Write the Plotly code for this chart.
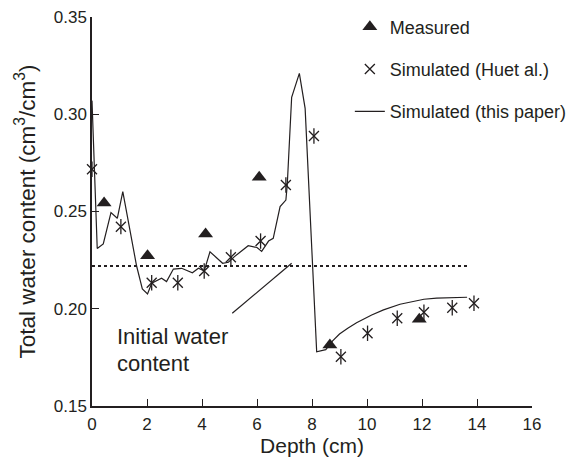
import plotly.graph_objects as go

# Measured (triangles)
meas_x = [0.44, 2.02, 4.13, 6.08, 8.65, 11.9]
meas_y = [0.2544, 0.2273, 0.2384, 0.2676, 0.1814, 0.1946]

# Simulated (Huet et al.) - asterisks
huet_x = [0.0, 1.05, 2.17, 3.12, 4.08, 5.05, 6.13, 7.05, 8.07, 9.05, 10.02, 11.1, 12.07, 13.1, 13.89]
huet_y = [0.2717, 0.2422, 0.2134, 0.2134, 0.2194, 0.2265, 0.2348, 0.2636, 0.2888, 0.1753, 0.1874, 0.1951, 0.1982, 0.2005, 0.2028]

# Simulated (this paper) - line
sim_x = [0.0, 0.19, 0.41, 0.69, 0.92, 1.12, 1.62, 1.83, 2.02, 2.17, 2.53, 2.71, 2.96, 3.26, 3.65, 3.87,
         4.08, 4.29, 4.75, 4.96, 5.18, 5.68, 6.0, 6.17, 6.42, 6.59, 6.84, 7.05, 7.1, 7.26, 7.54, 7.75,
         8.17, 8.5, 8.75, 9.0, 9.3, 9.62, 10.17, 10.6, 11.2, 11.63, 12.07, 12.53, 13.14, 13.64]
sim_y = [0.307, 0.231, 0.2333, 0.2494, 0.2465, 0.2602, 0.2221, 0.2102, 0.2076, 0.2131, 0.2157, 0.214,
         0.2204, 0.2208, 0.2185, 0.2208, 0.2194, 0.2293, 0.2234, 0.2239, 0.2268, 0.2324, 0.2315, 0.2295,
         0.2348, 0.2362, 0.2525, 0.2559, 0.2636, 0.3087, 0.321, 0.303, 0.1779, 0.179, 0.1835, 0.187,
         0.19, 0.1928, 0.1968, 0.1994, 0.2023, 0.2036, 0.2049, 0.2055, 0.2059, 0.2059]

# Initial water content (dotted)
init_x = [0.0, 13.7]
init_y = [0.222, 0.222]

# Pointer line for annotation
ptr_x = [5.1, 7.26]
ptr_y = [0.1977, 0.2234]

# Annotation text lines
note_lines = ["Initial water", "content"]
note_y = [0.1855, 0.1721]

x_ticks = [0, 2, 4, 6, 8, 10, 12, 14, 16]
y_ticks = [0.15, 0.20, 0.25, 0.30, 0.35]

INK = "#231f20"
FONT = "Liberation Sans, Arial, sans-serif"

fig = go.Figure()

fig.add_trace(go.Scatter(
    x=init_x, y=init_y, mode="lines",
    line=dict(color=INK, width=2, dash="3px,3px"),
    showlegend=False, hoverinfo="skip"))

fig.add_trace(go.Scatter(
    x=ptr_x, y=ptr_y, mode="lines",
    line=dict(color=INK, width=1.2),
    showlegend=False, hoverinfo="skip"))

fig.add_trace(go.Scatter(
    x=meas_x, y=meas_y, mode="markers", name="Measured",
    marker=dict(symbol="triangle-up", size=13, color=INK),
    legendgroup="a", cliponaxis=False))

fig.add_trace(go.Scatter(
    x=huet_x, y=huet_y, mode="markers", name="Simulated (Huet al.)",
    marker=dict(symbol="x-thin-open", size=10, color=INK, line=dict(color=INK, width=1.3)),
    legendgroup="b", cliponaxis=False))

fig.add_trace(go.Scatter(
    x=huet_x, y=huet_y, mode="markers", showlegend=False,
    marker=dict(symbol="line-ns-open", size=11, color=INK, line=dict(color=INK, width=1.3)),
    legendgroup="b", cliponaxis=False, hoverinfo="skip"))

fig.add_trace(go.Scatter(
    x=sim_x, y=sim_y, mode="lines", name="Simulated (this paper)",
    line=dict(color=INK, width=1.2),
    legendgroup="c", cliponaxis=False))

for txt, yy in zip(note_lines, note_y):
    fig.add_annotation(
        x=0.85, y=yy, xref="x", yref="y",
        text=txt, showarrow=False,
        xanchor="left", yanchor="middle", align="left",
        font=dict(size=22, color=INK, family=FONT))

fig.update_layout(
    width=584, height=460,
    margin=dict(l=92, r=52, t=17, b=54, autoexpand=False),
    paper_bgcolor="white", plot_bgcolor="white",
    font=dict(family=FONT, color=INK, size=17),
    legend=dict(
        x=0.586, y=1.022, xanchor="left", yanchor="top",
        bgcolor="rgba(0,0,0,0)", font=dict(size=18, color=INK),
        tracegroupgap=16, traceorder="grouped"),
    xaxis=dict(
        range=[0, 16], tickvals=x_ticks, ticktext=[str(v) for v in x_ticks],
        showline=True, linecolor=INK, linewidth=1.5,
        ticks="inside", ticklen=7, tickwidth=1.3, tickcolor=INK,
        showgrid=False, zeroline=False, ticklabelstandoff=2, automargin=False,
        tickfont=dict(size=17),
        title=dict(text="Depth (cm)", font=dict(size=21), standoff=5)),
    yaxis=dict(
        range=[0.15, 0.35], tickvals=y_ticks, ticktext=[f"{v:.2f}" for v in y_ticks],
        showline=True, linecolor=INK, linewidth=1.5,
        ticks="inside", ticklen=7, tickwidth=1.3, tickcolor=INK,
        showgrid=False, zeroline=False, automargin=False,
        tickfont=dict(size=17),
        title=dict(text="Total water content (cm<sup>3</sup>/cm<sup>3</sup>)", font=dict(size=22.5), standoff=12)),
)

fig.write_html("out.html")
